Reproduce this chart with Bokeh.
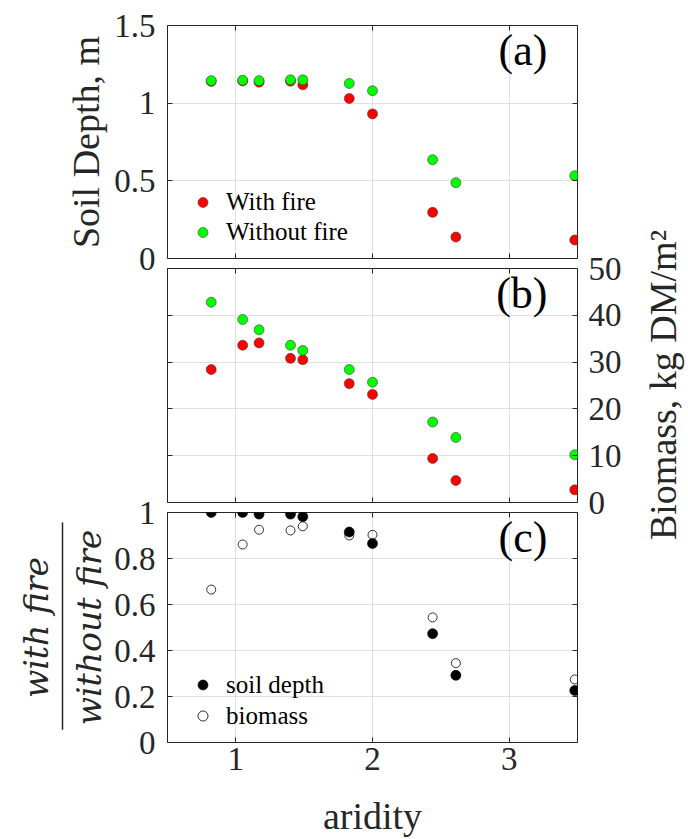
import math
from bokeh.plotting import figure
from bokeh.models import (FixedTicker, LinearAxis, Range1d, Legend, LegendItem, Label, Div)
from bokeh.layouts import column, row
from bokeh.embed import file_html
from bokeh.resources import INLINE
from bokeh.core.properties import value

# ---------------- data ----------------
aridity = [0.82, 1.05, 1.17, 1.40, 1.49, 1.83, 2.00, 2.44, 2.61, 3.48]

soil_with_fire = [1.140, 1.143, 1.135, 1.141, 1.118, 1.030, 0.931, 0.297, 0.138, 0.119]
soil_without_fire = [1.145, 1.147, 1.145, 1.150, 1.150, 1.127, 1.080, 0.636, 0.488, 0.533]

biomass_with_fire = [28.4, 33.6, 34.1, 30.8, 30.5, 25.4, 23.1, 9.4, 4.7, 2.7]
biomass_without_fire = [42.8, 39.1, 36.9, 33.6, 32.5, 28.4, 25.7, 17.2, 13.9, 10.2]

ratio_soil_depth = [1.0, 1.0, 0.993, 0.993, 0.982, 0.915, 0.865, 0.473, 0.292, 0.226]
ratio_biomass = [0.665, 0.861, 0.925, 0.922, 0.940, 0.900, 0.903, 0.544, 0.345, 0.274]

x_ticks = [1, 2, 3]
soil_ticks = [0, 0.5, 1, 1.5]
biomass_ticks = [0, 10, 20, 30, 40, 50]
ratio_ticks = [0, 0.2, 0.4, 0.6, 0.8, 1]

x_limits = (0.5, 3.5)
soil_limits = (0, 1.5)
biomass_limits = (0, 50)
ratio_limits = (0, 1)

x_title = "aridity"
soil_title = "Soil Depth, m"
biomass_title = "Biomass, kg DM/m²"
ratio_num = "with fire"
ratio_den = "without fire"

# ---------------- style ----------------
FONT = "Liberation Serif"
MATH_FONT = "DejaVu Serif"
INK = "#262626"
GRID = "#e0e0e0"
W = 688
LEFT = 167
RIGHT = 111
TICK_FS = "33px"
LABEL_FS = "38px"
LEG_FS = "25px"
PANEL_FS = "44px"


def style_axis(ax, ticks, show_labels, standoff=12):
    ax.ticker = FixedTicker(ticks=ticks)
    ax.major_tick_in = 5
    ax.major_tick_out = 0
    ax.minor_tick_line_color = None
    ax.axis_line_color = None
    ax.major_tick_line_color = INK
    ax.major_tick_line_width = 1
    if show_labels:
        ax.major_label_text_font = FONT
        ax.major_label_text_font_size = TICK_FS
        ax.major_label_text_color = INK
        ax.major_label_standoff = standoff
        ax.major_label_overrides = {t: f"{t:g}" for t in ticks}
    else:
        ax.major_label_text_color = None
        ax.major_label_text_font_size = "8px"
        ax.major_label_standoff = 0


def make_fig(width, height, top, bottom, left, right, ylim, yticks, y_loc="left"):
    p = figure(width=width, height=height, x_range=Range1d(*x_limits),
               y_range=Range1d(*ylim), output_backend="svg",
               toolbar_location=None, y_axis_location=y_loc,
               min_border_left=left, min_border_right=right,
               min_border_top=top, min_border_bottom=bottom)
    p.border_fill_color = None
    p.background_fill_color = "white"
    p.outline_line_color = INK
    p.outline_line_width = 1
    p.xgrid.ticker = FixedTicker(ticks=x_ticks)
    p.ygrid.ticker = FixedTicker(ticks=yticks)
    p.xgrid.grid_line_color = GRID
    p.ygrid.grid_line_color = GRID
    return p


def axis_label_style(ax, text, standoff):
    ax.axis_label = text
    ax.axis_label_text_font = FONT
    ax.axis_label_text_font_size = LABEL_FS
    ax.axis_label_text_font_style = "normal"
    ax.axis_label_text_color = INK
    ax.axis_label_standoff = standoff


def panel_label(p, text, y):
    p.add_layout(Label(x=3.28, y=y, text=text, text_align="right",
                       text_baseline="top", text_font=FONT,
                       text_font_size=PANEL_FS, text_color="black"))


def legend(items, loc, row_h):
    return Legend(items=items, location=loc, label_text_font=FONT,
                  label_text_font_size=LEG_FS, label_text_color="black",
                  glyph_width=25, glyph_height=row_h, label_height=row_h,
                  spacing=0, padding=5, margin=0, label_standoff=11,
                  border_line_color=None, background_fill_alpha=0)


# ---------------- panel (a) ----------------
pa = make_fig(W, 278, 25, 20, LEFT, RIGHT, soil_limits, soil_ticks)
style_axis(pa.xaxis[0], x_ticks, False)
style_axis(pa.yaxis[0], soil_ticks, True)
axis_label_style(pa.yaxis[0], soil_title, 4)
ax = LinearAxis(); style_axis(ax, soil_ticks, False); pa.add_layout(ax, "right")
ax = LinearAxis(); style_axis(ax, x_ticks, False); pa.add_layout(ax, "above")

ra1 = pa.scatter(aridity, soil_with_fire, size=10, fill_color="#ff0000",
                 line_color="#3a3a3a", line_width=0.6)
ra2 = pa.scatter(aridity, soil_without_fire, size=10, fill_color="#00ff00",
                 line_color="#3a3a3a", line_width=0.6)
pa.add_layout(legend([LegendItem(label="With fire", renderers=[ra1]),
                      LegendItem(label="Without fire", renderers=[ra2])],
                     (23, 11), 30))
panel_label(pa, "(a)", soil_limits[1])

# ---------------- panel (b) ----------------
STRIP_R = 58
HB = 354
pb = make_fig(W - STRIP_R, HB, 60, 60, LEFT, RIGHT - STRIP_R,
              biomass_limits, biomass_ticks, y_loc="right")
style_axis(pb.xaxis[0], x_ticks, False)
style_axis(pb.yaxis[0], biomass_ticks, True, standoff=11)
ax = LinearAxis(); style_axis(ax, biomass_ticks, False); pb.add_layout(ax, "left")
ax = LinearAxis(); style_axis(ax, x_ticks, False); pb.add_layout(ax, "above")

pb.scatter(aridity, biomass_with_fire, size=10, fill_color="#ff0000",
           line_color="#3a3a3a", line_width=0.6)
pb.scatter(aridity, biomass_without_fire, size=10, fill_color="#00ff00",
           line_color="#3a3a3a", line_width=0.6)
panel_label(pb, "(b)", biomass_limits[1])

# right-hand title of panel (b), reading bottom-to-top
biomass_div = Div(
    text=(f'<div style="position:relative;width:{STRIP_R}px;height:{HB}px;">'
          f'<span style="position:absolute;left:33px;top:{HB // 2}px;'
          f'transform:translate(-50%,-50%) rotate(-90deg);white-space:nowrap;'
          f"font-family:'{FONT}';font-size:{LABEL_FS};line-height:1;"
          f'color:{INK};">{biomass_title}</span></div>'),
    width=STRIP_R, height=HB, margin=0)

row_b = row(pb, biomass_div)
row_b.margin = (-70, 0, 0, 0)

# ---------------- panel (c) ----------------
STRIP_L = 110
HC = 347
pc = make_fig(W - STRIP_L, HC, 20, 93, LEFT - STRIP_L, RIGHT,
              ratio_limits, ratio_ticks)
style_axis(pc.xaxis[0], x_ticks, True, standoff=5)
axis_label_style(pc.xaxis[0], x_title, 22)
style_axis(pc.yaxis[0], ratio_ticks, True)
ax = LinearAxis(); style_axis(ax, ratio_ticks, False); pc.add_layout(ax, "right")
ax = LinearAxis(); style_axis(ax, x_ticks, False); pc.add_layout(ax, "above")

rc1 = pc.scatter(aridity, ratio_soil_depth, size=10, fill_color="black",
                 line_color="black", line_width=0.6)
rc2 = pc.scatter(aridity, ratio_biomass, size=9, fill_color=None,
                 line_color="black", line_width=0.8)
pc.add_layout(legend([LegendItem(label="soil depth", renderers=[rc1]),
                      LegendItem(label="biomass", renderers=[rc2])],
                     (23, 11), 31))
panel_label(pc, "(c)", ratio_limits[1])

# fraction y-label (its frame lines up with panel (c)'s frame)
sc = figure(width=STRIP_L, height=HC, x_range=Range1d(0, STRIP_L),
            y_range=Range1d(*ratio_limits), output_backend="svg",
            toolbar_location=None, x_axis_type=None, y_axis_type=None,
            min_border=0)
sc.outline_line_color = None
sc.background_fill_color = None
sc.border_fill_color = None
mid = (ratio_limits[0] + ratio_limits[1]) / 2
sc.text(x=[36], y=[mid], text=[ratio_num], angle=math.pi / 2,
        text_align="center", text_baseline="middle", text_font=value(MATH_FONT),
        text_font_style="italic", text_font_size="33px", text_color=INK)
sc.text(x=[89], y=[mid], text=[ratio_den], angle=math.pi / 2,
        text_align="center", text_baseline="middle", text_font=value(MATH_FONT),
        text_font_style="italic", text_font_size="33px", text_color=INK)
sc.segment(x0=[62], y0=[0.055], x1=[62], y1=[0.957],
           line_color=INK, line_width=1.5)

row_c = row(sc, pc)
row_c.margin = (-70, 0, 0, 0)

layout = column(pa, row_b, row_c)
open("out.html", "w").write(file_html(layout, INLINE))
